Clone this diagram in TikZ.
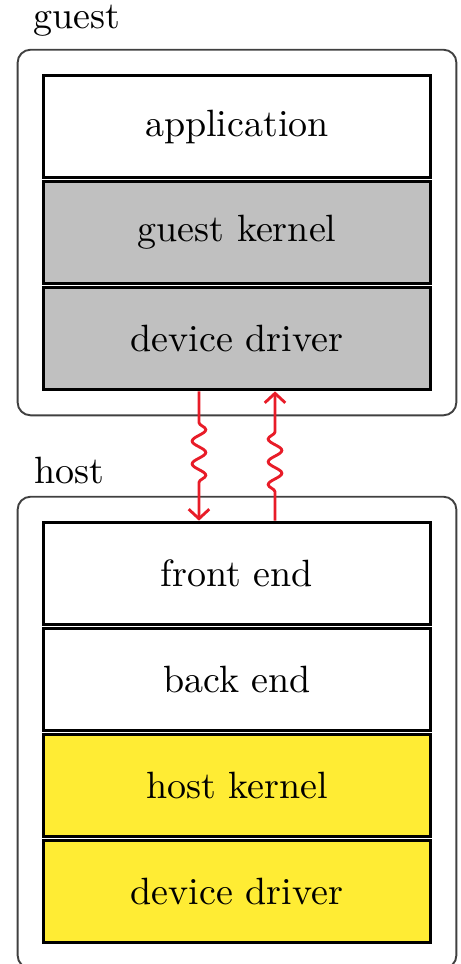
\documentclass[tikz,border=0pt]{standalone}
\usetikzlibrary{arrows.meta,decorations.pathmorphing,fit}
\definecolor{layergray}{RGB}{192,192,192}
\definecolor{layeryellow}{RGB}{255,236,52}
\definecolor{callred}{RGB}{232,28,40}
\begin{document}
\begin{tikzpicture}[x=0.263pt,y=-0.263pt,
  layer/.style={draw=black,line width=0.8pt,minimum width=102pt,minimum height=27pt,
    inner sep=0pt,font=\normalsize},
  shell/.style={draw=black!75,line width=0.5pt,rounded corners=3.4pt,inner sep=6.3pt},
  caption/.style={anchor=base west,inner sep=0pt},
  call/.style={draw=callred,line width=0.75pt,
    -{Straight Barb[length=2.5pt,width=5.4pt,line width=0.75pt]},
    decorate,decoration={snake,amplitude=1.8pt,segment length=6pt}}]
\useasboundingbox (0,0) rectangle (461,964);

% guest stack
\node[layer,fill=white]      (app) at (237,126.5) {application};
\node[layer,fill=layergray]  (gk)  at (237,232.5) {guest kernel};
\node[layer,fill=layergray]  (gdd) at (237,338.5) {device driver};

% host stack
\node[layer,fill=white]       (fe)  at (237,573.5) {front end};
\node[layer,fill=white]       (be)  at (237,679.5) {back end};
\node[layer,fill=layeryellow] (hk)  at (237,785.5) {host kernel};
\node[layer,fill=layeryellow] (hdd) at (237,891.5) {device driver};

% enclosing frames
\node[shell,fit=(app)(gdd)] (guest) {};
\node[shell,fit=(fe)(hdd)]  (host)  {};
\node[caption] (guestlbl) at (33,28)  {guest};
\node[caption] (hostlbl)  at (34,483) {host};

% calls between guest and host
\draw[call,decoration={pre length=8.2pt,post length=9.2pt}]
  ([xshift=-10pt]gdd.south) -- ([xshift=-10pt]fe.north);
\draw[call,decoration={pre length=7.6pt,post length=9.8pt}]
  ([xshift=10pt]fe.north) -- ([xshift=10pt]gdd.south);
\end{tikzpicture}
\end{document}
